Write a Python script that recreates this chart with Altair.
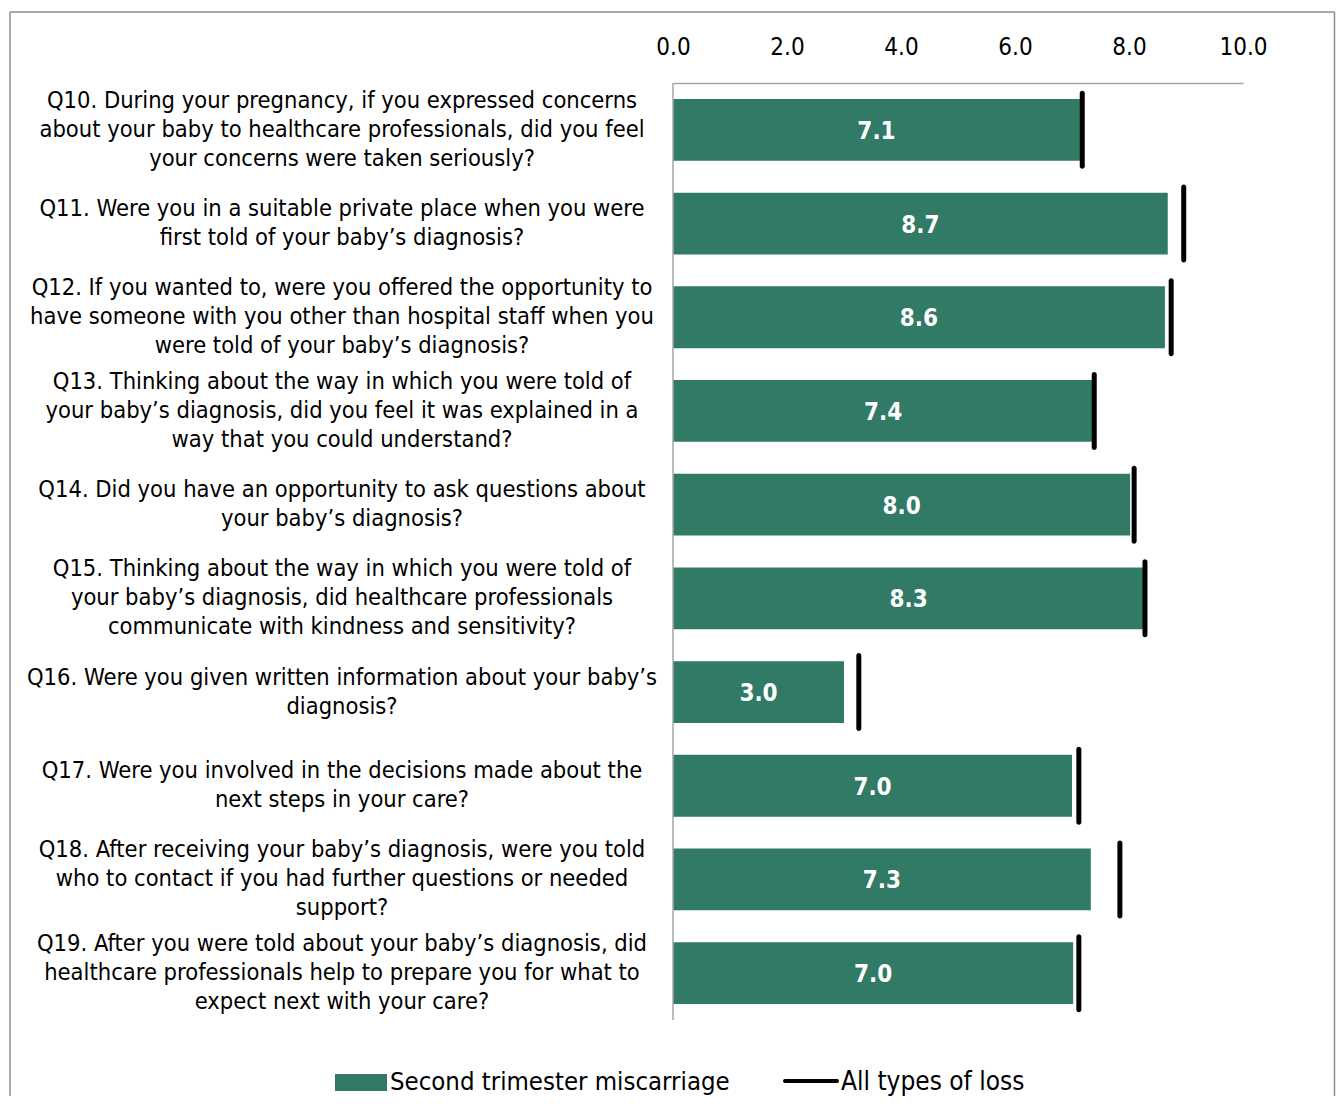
import altair as alt
import pandas as pd

questions = [
    "Q10. During your pregnancy, if you expressed concerns\nabout your baby to healthcare professionals, did you feel\nyour concerns were taken seriously?",
    "Q11. Were you in a suitable private place when you were\nfirst told of your baby\u2019s diagnosis?",
    "Q12. If you wanted to, were you offered the opportunity to\nhave someone with you other than hospital staff when you\nwere told of your baby\u2019s diagnosis?",
    "Q13. Thinking about the way in which you were told of\nyour baby\u2019s diagnosis, did you feel it was explained in a\nway that you could understand?",
    "Q14. Did you have an opportunity to ask questions about\nyour baby\u2019s diagnosis?",
    "Q15. Thinking about the way in which you were told of\nyour baby\u2019s diagnosis, did healthcare professionals\ncommunicate with kindness and sensitivity?",
    "Q16. Were you given written information about your baby\u2019s\ndiagnosis?",
    "Q17. Were you involved in the decisions made about the\nnext steps in your care?",
    "Q18. After receiving your baby\u2019s diagnosis, were you told\nwho to contact if you had further questions or needed\nsupport?",
    "Q19. After you were told about your baby\u2019s diagnosis, did\nhealthcare professionals help to prepare you for what to\nexpect next with your care?",
]
second_trimester = [7.14, 8.68, 8.63, 7.37, 8.02, 8.27, 3.0, 7.0, 7.33, 7.02]
all_loss = [7.18, 8.96, 8.74, 7.39, 8.09, 8.28, 3.26, 7.12, 7.84, 7.12]
tick_values = [0, 2, 4, 6, 8, 10]
legend_labels = ["Second trimester miscarriage", "All types of loss"]

keys = [f"q{i}" for i in range(len(questions))]
df = pd.DataFrame({
    "key": keys,
    "question": questions,
    "nlines": [q.count("\n") + 1 for q in questions],
    "second": second_trimester,
    "all": all_loss,
})

FONT = "DejaVu Sans Condensed, Liberation Sans Narrow, Liberation Sans, sans-serif"
GREEN = "#317A65"
LINE_H = 29

y_enc = alt.Y("key:N", sort=keys, axis=None,
              scale=alt.Scale(paddingInner=0.34, paddingOuter=0.17))
x_scale = alt.Scale(domain=[0, 10], nice=False)

base = alt.Chart(df)

bars = base.mark_bar(color=GREEN).encode(
    x=alt.X("second:Q", scale=x_scale,
            axis=alt.Axis(orient="top", values=tick_values, format=".1f",
                          grid=False, ticks=False, labelPadding=24, labelFlush=False,
                          labelFontSize=24, labelFont=FONT, labelColor="#000000",
                          domainColor="#A6A6A6", domainWidth=1.5, title=None)),
    y=y_enc,
)

bar_labels = base.transform_calculate(mid="datum.second / 2").mark_text(
    color="white", fontWeight="bold", fontSize=24, font=FONT,
    align="center", baseline="middle", dy=2,
).encode(
    x=alt.X("mid:Q", scale=x_scale),
    y=y_enc,
    text=alt.Text("second:Q", format=".1f"),
)

ticks = base.mark_tick(color="black", size=78, thickness=5, cornerRadius=2.5, opacity=1).encode(
    x=alt.X("all:Q", scale=x_scale),
    y=y_enc,
)

def qlabel_layer(n):
    return base.transform_filter(f"datum.nlines == {n}").mark_text(
        fontSize=23.5, font=FONT, align="center", baseline="middle",
        lineBreak="\n", lineHeight=LINE_H, color="#000000",
        dy=-(n - 1) * LINE_H / 2,
    ).encode(
        x=alt.value(-331),
        y=y_enc,
        text="question:N",
    )

qlabels2 = qlabel_layer(2)
qlabels3 = qlabel_layer(3)

BOTTOM = 76
RIGHT = 93
one = pd.DataFrame({"a": [0]})
y_domain = alt.Chart(one).mark_rule(color="#A6A6A6", strokeWidth=1.5).encode(
    x=alt.value(0), y=alt.value(0), y2=alt.value(937)
)

frame_left = alt.Chart(one).mark_rule(color="#8C8C8C", strokeWidth=1.5).encode(
    x=alt.value(-663), y=alt.value(-71), y2=alt.value(937 + BOTTOM))
frame_right = alt.Chart(one).mark_rule(color="#8C8C8C", strokeWidth=1.5).encode(
    x=alt.value(570 + RIGHT - 1.5), y=alt.value(-71), y2=alt.value(937 + BOTTOM))
frame_top = alt.Chart(one).mark_rule(color="#8C8C8C", strokeWidth=1.5).encode(
    x=alt.value(-663), x2=alt.value(570 + RIGHT - 1.5), y=alt.value(-71))

leg_swatch = alt.Chart(one).mark_rect(color=GREEN).encode(
    x=alt.value(-338), x2=alt.value(-286), y=alt.value(991), y2=alt.value(1008))
leg_text1 = alt.Chart(pd.DataFrame({"t": [legend_labels[0]]})).mark_text(
    fontSize=25.5, font=FONT, align="left", baseline="middle", color="#000000").encode(
    x=alt.value(-283), y=alt.value(999), text="t:N")
leg_line = alt.Chart(one).mark_rule(color="black", strokeWidth=4, strokeCap="round").encode(
    x=alt.value(112), x2=alt.value(164), y=alt.value(998))
leg_text2 = alt.Chart(pd.DataFrame({"t": [legend_labels[1]]})).mark_text(
    fontSize=26, font=FONT, align="left", baseline="middle", color="#000000").encode(
    x=alt.value(168), y=alt.value(999), text="t:N")

chart = alt.layer(
    frame_left, frame_right, frame_top,
    bars, bar_labels, ticks, y_domain, qlabels2, qlabels3,
    leg_swatch, leg_text1, leg_line, leg_text2,
).properties(
    width=570, height=937,
    background="white",
    autosize=alt.AutoSizeParams(type="none"),
    padding={"left": 665, "top": 75, "right": RIGHT, "bottom": BOTTOM},
).configure_view(strokeOpacity=0, strokeWidth=0)

chart.save("out.html", embed_options={"renderer": "svg", "actions": False})
